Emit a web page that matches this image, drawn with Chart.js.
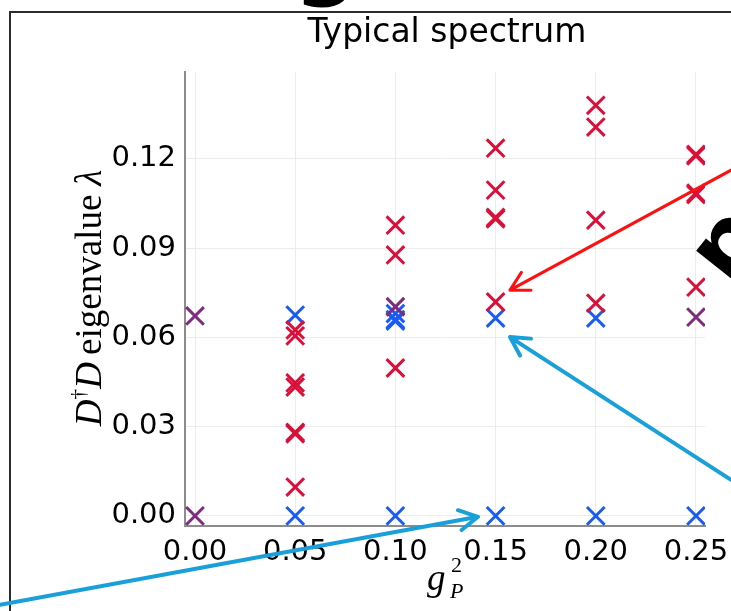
<!DOCTYPE html>
<html>
<head>
<meta charset="utf-8">
<script src="https://cdn.jsdelivr.net/npm/chart.js@4"></script>
<style>
  html, body { margin: 0; padding: 0; background: #fff; }
  #wrap { width: 731px; height: 611px; position: relative; }
</style>
</head>
<body>
<div id="wrap"><canvas id="spectrum"></canvas></div>
<script>
// g_P^2 values on the x axis and the tick labels
const xTicks = [0, 0.05, 0.10, 0.15, 0.20, 0.25];
const yTicks = [0, 0.03, 0.06, 0.09, 0.12];

// red crosses
const redG2 = [0.05, 0.05, 0.05, 0.05, 0.05, 0.05, 0.05,
               0.10, 0.10, 0.10,
               0.15, 0.15, 0.15, 0.15, 0.15,
               0.20, 0.20, 0.20, 0.20,
               0.25, 0.25, 0.25, 0.25, 0.25];
const redLambda = [0.0625, 0.0605, 0.0447, 0.0433, 0.0281, 0.0276, 0.0097,
                   0.0977, 0.0877, 0.0497,
                   0.1236, 0.1095, 0.1003, 0.0998, 0.0719,
                   0.1380, 0.1307, 0.0994, 0.0715,
                   0.1215, 0.1210, 0.1085, 0.1080, 0.0769];

// blue crosses
const blueG2 = [0.05, 0.05, 0.10, 0.10, 0.10, 0.10, 0.15, 0.15, 0.20, 0.20, 0.25];
const blueLambda = [0.0675, 0, 0.0680, 0.0660, 0.0655, 0, 0.0665, 0, 0.0665, 0, 0];

// purple crosses
const purpleG2 = [0, 0, 0.10, 0.25];
const purpleLambda = [0.0672, 0, 0.0703, 0.0668];

// slide arrows: [tail g2, tail lambda, tip g2, tip lambda]
const arrowRed = [0.2675, 0.1162, 0.1572, 0.0759];
const arrowBlueA = [0.2675, 0.0121, 0.1572, 0.0601];
const arrowBlueB = [-0.0973, -0.0299, 0.1412, -0.0003];

const RED = "#d8103a";
const BLUE = "#1a5cf2";
const PURPLE = "#7d2c80";

function toPoints(xs, ys) {
  return xs.map((x, i) => ({ x: x, y: ys[i] }));
}

function crossSet(label, xs, ys, color, order) {
  return {
    label: label,
    data: toPoints(xs, ys),
    showLine: false,
    pointStyle: "crossRot",
    pointRadius: 12.5,
    pointHoverRadius: 12.5,
    pointBorderWidth: 3,
    borderColor: color,
    backgroundColor: color,
    order: order
  };
}

function drawArrow(ctx, x0, y0, x1, y1, color, w) {
  const ang = Math.atan2(y1 - y0, x1 - x0);
  const len = 21;
  ctx.save();
  ctx.strokeStyle = color;
  ctx.lineWidth = w;
  ctx.lineCap = "round";
  ctx.lineJoin = "round";
  ctx.beginPath();
  ctx.moveTo(x0, y0);
  ctx.lineTo(x1, y1);
  ctx.moveTo(x1 + Math.cos(ang + Math.PI - 0.5) * len, y1 + Math.sin(ang + Math.PI - 0.5) * len);
  ctx.lineTo(x1, y1);
  ctx.lineTo(x1 + Math.cos(ang + Math.PI + 0.5) * len, y1 + Math.sin(ang + Math.PI + 0.5) * len);
  ctx.stroke();
  ctx.restore();
}

function drawParts(ctx, parts, x, y) {
  let cx = x;
  parts.forEach(p => {
    ctx.font = p.f;
    ctx.fillText(p.t, cx, y + (p.dy || 0));
    cx += ctx.measureText(p.t).width + (p.gap || 0);
  });
}

function partsWidth(ctx, parts) {
  let w = 0;
  parts.forEach(p => {
    ctx.font = p.f;
    w += ctx.measureText(p.t).width + (p.gap || 0);
  });
  return w;
}

const slideDecor = {
  id: "slideDecor",
  afterDraw(chart) {
    const ctx = chart.ctx;
    const xs = chart.scales.x, ys = chart.scales.y;
    const px = v => xs.getPixelForValue(v);
    const py = v => ys.getPixelForValue(v);

    ctx.save();
    ctx.fillStyle = "#000";

    // slide frame
    ctx.strokeStyle = "#2b2b2b";
    ctx.lineWidth = 2;
    ctx.beginPath();
    ctx.moveTo(10, 611);
    ctx.lineTo(10, 12);
    ctx.lineTo(731, 12);
    ctx.stroke();

    // bits of slide lettering cut off by the crop
    ctx.font = "bold 90px 'DejaVu Sans'";
    ctx.textAlign = "center";
    ctx.textBaseline = "alphabetic";
    ctx.fillText("g", 326, -12);
    ctx.save();
    ctx.translate(750, 262);
    ctx.rotate(-0.9);
    ctx.fillText("p", 0, 0);
    ctx.restore();

    // title
    ctx.font = "33px 'DejaVu Sans'";
    ctx.textAlign = "center";
    ctx.fillText("Typical spectrum", 447, 42);

    // y axis title
    const serif = "'Liberation Serif', 'DejaVu Serif', serif";
    const yParts = [
      { t: "D", f: "italic 37px " + serif },
      { t: "\u2020", f: "22px " + serif, dy: -16 },
      { t: "D", f: "italic 37px " + serif, gap: 7 },
      { t: "eigenvalue", f: "37px " + serif, gap: 9 },
      { t: "\u03bb", f: "italic 37px " + serif }
    ];
    ctx.textAlign = "left";
    ctx.save();
    ctx.translate(101, 298);
    ctx.rotate(-Math.PI / 2);
    drawParts(ctx, yParts, -partsWidth(ctx, yParts) / 2, 0);
    ctx.restore();

    // x axis title g_P^2
    ctx.font = "italic 37px " + serif;
    ctx.fillText("g", 427, 590);
    ctx.font = "italic 22px " + serif;
    ctx.fillText("P", 450, 598);
    ctx.font = "22px " + serif;
    ctx.fillText("2", 451, 572);

    ctx.restore();

    drawArrow(ctx, px(arrowRed[0]), py(arrowRed[1]), px(arrowRed[2]), py(arrowRed[3]), "#ff1010", 3);
    drawArrow(ctx, px(arrowBlueA[0]), py(arrowBlueA[1]), px(arrowBlueA[2]), py(arrowBlueA[3]), "#19a0d8", 4);
    drawArrow(ctx, px(arrowBlueB[0]), py(arrowBlueB[1]), px(arrowBlueB[2]), py(arrowBlueB[3]), "#19a0d8", 4);
  }
};

const tickFont = { family: "'DejaVu Sans'", size: 29 };

new Chart(document.getElementById("spectrum"), {
  type: "scatter",
  data: {
    datasets: [
      crossSet("purple", purpleG2, purpleLambda, PURPLE, 0),
      crossSet("red", redG2, redLambda, RED, 1),
      crossSet("blue", blueG2, blueLambda, BLUE, 2)
    ]
  },
  options: {
    responsive: true,
    maintainAspectRatio: false,
    animation: false,
    layout: { padding: { top: 72, right: 26, left: 0, bottom: 0 } },
    plugins: {
      legend: { display: false },
      title: { display: false },
      tooltip: { enabled: false }
    },
    scales: {
      x: {
        type: "linear",
        min: -0.005,
        max: 0.2545,
        afterBuildTicks: s => { s.ticks = xTicks.map(v => ({ value: v })); },
        afterFit: s => { s.height = 85; s.paddingLeft = 0; s.paddingRight = 0; },
        ticks: {
          font: tickFont,
          color: "#000",
          padding: 9,
          maxRotation: 0,
          callback: v => v.toFixed(2)
        },
        grid: { color: "#ececec", lineWidth: 1, drawTicks: false },
        border: { color: "#8c8c8c", width: 2 }
      },
      y: {
        type: "linear",
        min: -0.0034,
        max: 0.1492,
        afterBuildTicks: s => { s.ticks = yTicks.map(v => ({ value: v })); },
        afterFit: s => { s.width = 185; s.paddingTop = 0; s.paddingBottom = 0; },
        ticks: {
          font: tickFont,
          color: "#000",
          padding: 9,
          callback: v => v.toFixed(2)
        },
        grid: { color: "#ececec", lineWidth: 1, drawTicks: false },
        border: { color: "#8c8c8c", width: 2 }
      }
    }
  },
  plugins: [slideDecor]
});
</script>
</body>
</html>
